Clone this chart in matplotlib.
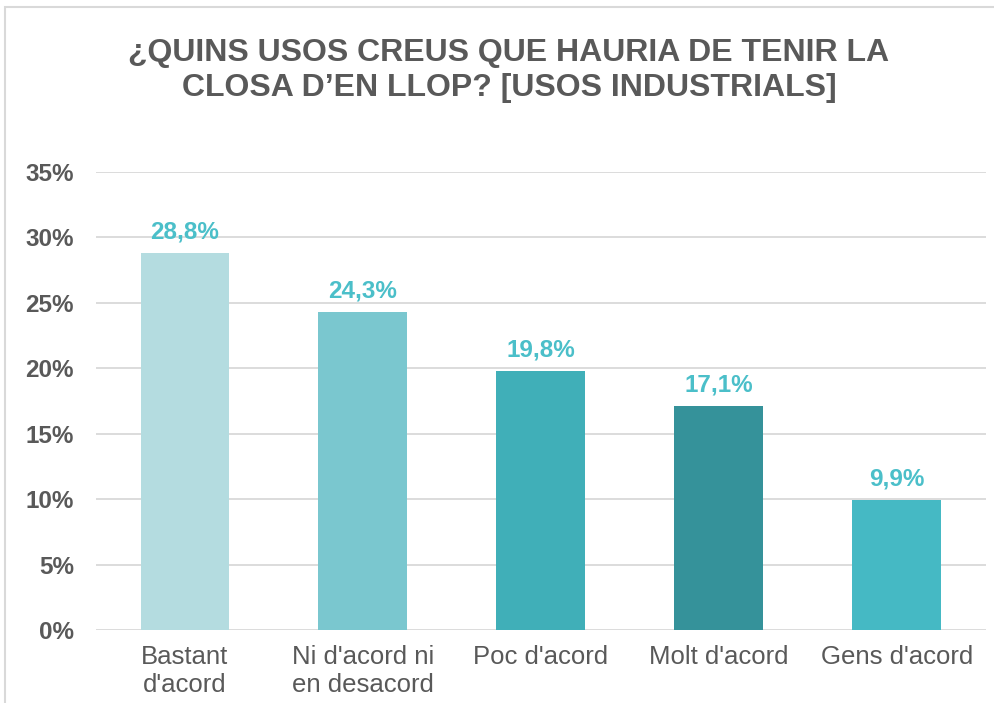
import matplotlib
matplotlib.use("Agg")
import matplotlib.pyplot as plt
from matplotlib import patheffects as pe
from matplotlib.ticker import FuncFormatter, MultipleLocator
from matplotlib.patches import Rectangle

# ------------------ data ------------------
categories = ["Bastant\nd'acord", "Ni d'acord ni\nen desacord", "Poc d'acord",
              "Molt d'acord", "Gens d'acord"]
values = [28.8, 24.3, 19.8, 17.1, 9.9]
bar_colors = ["#B4DCE0", "#7AC7CF", "#40AFB8", "#35929A", "#45B9C4"]
title = "¿QUINS USOS CREUS QUE HAURIA DE TENIR LA\nCLOSA D’EN LLOP? [USOS INDUSTRIALS]"

fam = ["Liberation Sans", "DejaVu Sans"]
gray = "#595959"
label_color = "#4BBFC9"

fig = plt.figure(figsize=(9.94, 7.03), dpi=100)
ax = fig.add_axes([0.0966, 0.1038, 0.895, 0.6515])

x = range(len(categories))
bars = ax.bar(x, values, width=0.5, color=bar_colors, zorder=3)
for b in bars:
    b.set_path_effects([pe.SimplePatchShadow(offset=(0, 0), shadow_rgbFace="#000000", alpha=0.12),
                        pe.Normal()])

for xi, v in zip(x, values):
    ax.text(xi, v + 0.75, f"{v:.1f}%".replace(".", ","), ha="center", va="bottom",
            fontsize=17.5, fontweight="bold", color=label_color, family=fam)

ax.set_xlim(-0.5, len(categories) - 0.5)
ax.set_ylim(0, 35)
ax.yaxis.set_major_locator(MultipleLocator(5))
ax.yaxis.set_major_formatter(FuncFormatter(lambda v, p: f"{v:.0f}%"))
ax.grid(axis="y", color="#D9D9D9", linewidth=1.3, zorder=0)
for s in ax.spines.values():
    s.set_visible(False)
ax.tick_params(axis="both", length=0, colors=gray)
ax.tick_params(axis="y", pad=16)
ax.tick_params(axis="x", pad=11)
ax.set_xticks(list(x))
ax.set_xticklabels(categories, fontsize=18.5, color=gray, family=fam, linespacing=1.22)
for t in ax.get_yticklabels():
    t.set_fontsize(17.5)
    t.set_fontweight("bold")
    t.set_family(fam)
    t.set_color(gray)

fig.text(0.512, 0.9, title, ha="center", va="center", fontsize=23, fontweight="bold",
         color=gray, family=fam, linespacing=1.2)

# chart frame (only top and left edges visible in the crop)
fig.patches.append(Rectangle((0.005, -0.05), 1.1, 1.04, transform=fig.transFigure,
                             fill=False, edgecolor="#D9D9D9", linewidth=1.5))

plt.savefig("out.png", dpi=100)
